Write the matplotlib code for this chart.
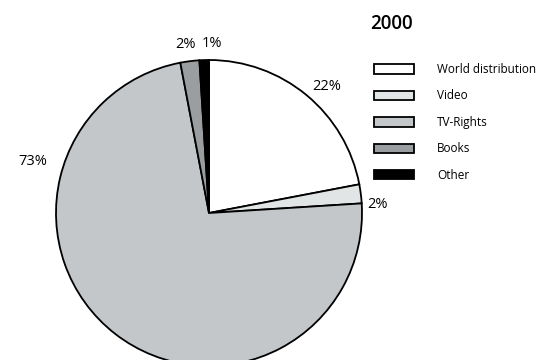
import numpy as np
import matplotlib.pyplot as plt

plt.rcParams['font.family'] = ['Open Sans', 'DejaVu Sans']

categories = ["World distribution", "Video", "TV-Rights", "Books", "Other"]
shares = [22, 2, 73, 2, 1]
pct_labels = ["22%", "2%", "73%", "2%", "1%"]
title = "2000"

colors = ["#ffffff", "#e2e5e5", "#c3c7c9", "#9a9ea1", "#000000"]
# where each percentage label sits (degrees, radius factor)
label_angle = [47, 3, 163.6, 98, 89]
label_dist = [1.13, 1.1, 1.2, 1.11, 1.11]

fig = plt.figure(figsize=(5.44, 3.6), dpi=100)
ax = fig.add_axes([56 / 544, -6 / 360, 306 / 544, 306 / 360])

wedges, _ = ax.pie(shares, colors=colors, startangle=90, counterclock=False,
                   wedgeprops=dict(edgecolor="black", linewidth=1.3))
ax.set_xlim(-1, 1)
ax.set_ylim(-1, 1)
ax.set_aspect("equal")
ax.axis("off")

for txt, a, d in zip(pct_labels, label_angle, label_dist):
    t = np.deg2rad(a)
    ax.text(d * np.cos(t), d * np.sin(t), txt, ha="center", va="center",
            fontsize=10.5, clip_on=False)

fig.text(391 / 544, 1 - 24 / 360, title, ha="center", va="center",
         fontsize=13.5, fontweight="semibold")

fig.legend(wedges, categories, loc="upper left",
           bbox_to_anchor=(374 / 544, 1 - 63 / 360), frameon=False,
           fontsize=8.5, handlelength=3.4, handleheight=0.85,
           labelspacing=1.14, handletextpad=1.95, borderpad=0,
           borderaxespad=0)

fig.savefig("out.png", dpi=100)
